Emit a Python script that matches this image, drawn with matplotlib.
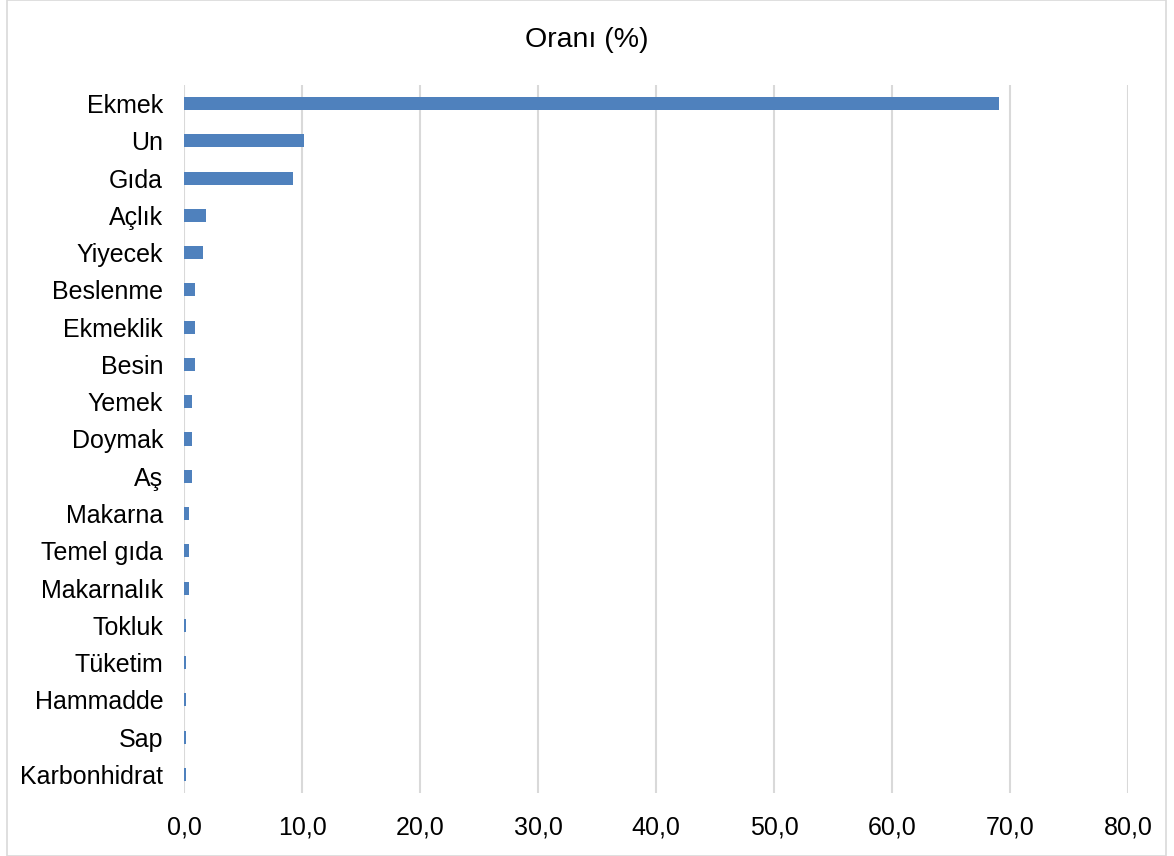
import matplotlib.pyplot as plt
from matplotlib.patches import Rectangle
from matplotlib.ticker import FuncFormatter

plt.rcParams['font.family'] = ['Liberation Sans', 'DejaVu Sans']

# values
categories = ['Ekmek', 'Un', 'Gıda', 'Açlık', 'Yiyecek', 'Beslenme', 'Ekmeklik',
              'Besin', 'Yemek', 'Doymak', 'Aş', 'Makarna', 'Temel gıda',
              'Makarnalık', 'Tokluk', 'Tüketim', 'Hammadde', 'Sap', 'Karbonhidrat']
values = [69.1, 10.2, 9.2, 1.85, 1.6, 0.9, 0.9, 0.9, 0.65, 0.65, 0.65,
          0.45, 0.45, 0.45, 0.15, 0.15, 0.15, 0.15, 0.15]
x_ticks = [0, 10, 20, 30, 40, 50, 60, 70, 80]

fig = plt.figure(figsize=(11.74, 8.56), dpi=100)
ax = fig.add_axes([184 / 1174, 1 - 793 / 856, (1128 - 184) / 1174, (793 - 85) / 856])

# light frame around the whole chart area
fig.patches.append(Rectangle((7 / 1174, 0), (1166 - 7) / 1174, 1, transform=fig.transFigure,
                             fill=False, edgecolor='#d9d9d9', linewidth=1.2))

ypos = list(range(len(categories)))
ax.barh(ypos, values, height=0.35, color='#4f81bd', zorder=3)
ax.set_ylim(len(categories) - 0.5, -0.5)
ax.set_yticks(ypos)
ax.set_yticklabels(categories, fontsize=18)

ax.set_xlim(0, 80)
ax.set_xticks(x_ticks)
ax.xaxis.set_major_formatter(FuncFormatter(lambda v, p: f'{v:.1f}'.replace('.', ',')))
ax.tick_params(axis='x', labelsize=18, length=0, pad=16)
ax.tick_params(axis='y', length=0, pad=15)
ax.grid(axis='x', color='#d9d9d9', linewidth=1.5, zorder=0)
for s in ax.spines.values():
    s.set_visible(False)

fig.text(0.5, 1 - 40 / 856, 'Oranı (%)', ha='center', va='center', fontsize=20.5)

fig.savefig('out.png', dpi=100)
